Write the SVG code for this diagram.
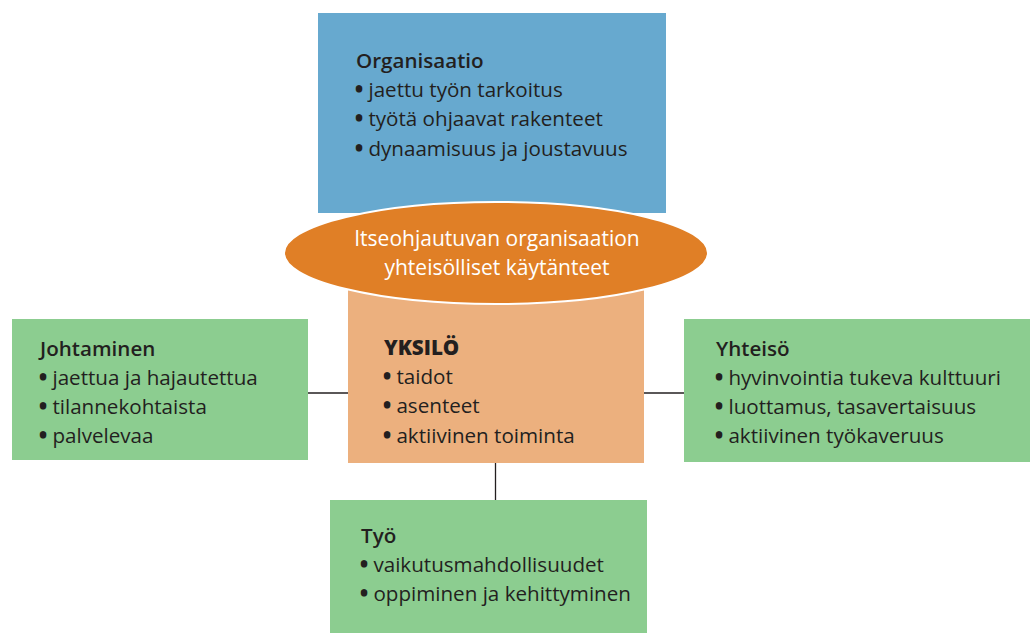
<svg xmlns="http://www.w3.org/2000/svg" width="1035" height="633" viewBox="0 0 1035 633">
<style>
text{font-family:"Open Sans",Lato,"Liberation Sans",sans-serif;font-size:20.6px;fill:#231f20}
.t{font-weight:600}
.b{font-weight:800}
.w{fill:#ffffff;text-anchor:middle;font-size:21px}
.d{font-weight:800}
.g{fill:#8ccd90}
.ln{stroke:#231f20;stroke-width:1.3;fill:none}
</style>
<rect width="1035" height="633" fill="#ffffff"/>
<g id="connectors">
<line class="ln" x1="308" y1="393" x2="348" y2="393"/>
<line class="ln" x1="644" y1="393" x2="684" y2="393"/>
<line class="ln" x1="495.5" y1="463" x2="495.5" y2="500"/>
</g>
<g id="organisaatio">
<rect x="318" y="13" width="348" height="200" fill="#67a9cf"/>
<text class="t" x="356" y="68">Organisaatio</text>
<text x="355" y="97"><tspan class="d">•</tspan> jaettu työn tarkoitus</text>
<text x="355" y="126"><tspan class="d">•</tspan> työtä ohjaavat rakenteet</text>
<text x="355" y="156"><tspan class="d">•</tspan> dynaamisuus ja joustavuus</text>
</g>
<g id="yksilo">
<rect x="348" y="285" width="296" height="178" fill="#ecb07e"/>
<text class="b" x="384" y="355">YKSILÖ</text>
<text x="383" y="384"><tspan class="d">•</tspan> taidot</text>
<text x="383" y="413"><tspan class="d">•</tspan> asenteet</text>
<text x="383" y="443"><tspan class="d">•</tspan> aktiivinen toiminta</text>
</g>
<g id="kaytanteet">
<ellipse cx="496" cy="253" rx="212" ry="51" fill="#e07f26" stroke="#ffffff" stroke-width="2"/>
<text class="w" x="497" y="246">Itseohjautuvan organisaation</text>
<text class="w" x="497" y="275">yhteisölliset käytänteet</text>
</g>
<g id="johtaminen">
<rect class="g" x="12" y="319" width="296" height="141"/>
<text class="t" x="40" y="356">Johtaminen</text>
<text x="39" y="385"><tspan class="d">•</tspan> jaettua ja hajautettua</text>
<text x="39" y="414"><tspan class="d">•</tspan> tilannekohtaista</text>
<text x="39" y="443"><tspan class="d">•</tspan> palvelevaa</text>
</g>
<g id="yhteiso">
<rect class="g" x="684" y="319" width="346" height="143"/>
<text class="t" x="716" y="356">Yhteisö</text>
<text x="715" y="385"><tspan class="d">•</tspan> hyvinvointia tukeva kulttuuri</text>
<text x="715" y="414"><tspan class="d">•</tspan> luottamus, tasavertaisuus</text>
<text x="715" y="443"><tspan class="d">•</tspan> aktiivinen työkaveruus</text>
</g>
<g id="tyo">
<rect class="g" x="330" y="500" width="317" height="133"/>
<text class="t" x="361" y="543">Työ</text>
<text x="360" y="572"><tspan class="d">•</tspan> vaikutusmahdollisuudet</text>
<text x="360" y="601"><tspan class="d">•</tspan> oppiminen ja kehittyminen</text>
</g>
</svg>
